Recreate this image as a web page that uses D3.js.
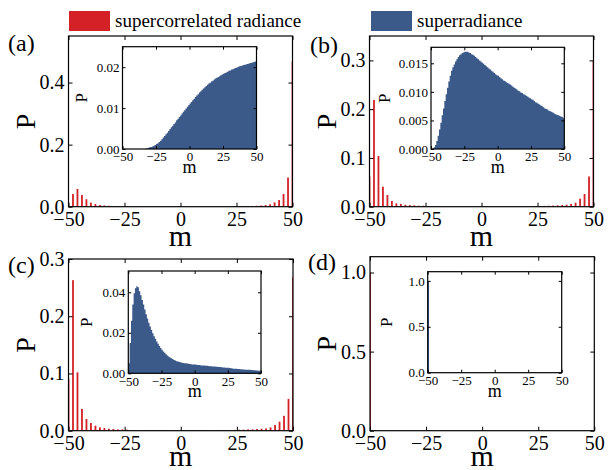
<!DOCTYPE html>
<html><head><meta charset="utf-8">
<script src="https://cdn.jsdelivr.net/npm/d3@7"></script>
<style>
body{margin:0;background:#fff}
svg{display:block}
</style>
</head><body><svg id="chart" width="610" height="470"></svg>
<script>
// ---------------- DATA ----------------
const mainM = [-50,-48,-46,-44,-42,-40,-38,-36,-34,-32,-30,-28,-26,-24,-22,-20,-18,-16,-14,-12,-10,-8,-6,-4,-2,0,
  2,4,6,8,10,12,14,16,18,20,22,24,26,28,30,32,34,36,38,40,42,44,46,48,50];

const binM = [-50,-49,-48,-47,-46,-45,-44,-43,-42,-41,-40,-39,-38,-37,-36,-35,-34,-33,-32,-31,
  -30,-29,-28,-27,-26,-25,-24,-23,-22,-21,-20,-19,-18,-17,-16,-15,-14,-13,-12,-11,
  -10,-9,-8,-7,-6,-5,-4,-3,-2,-1,0,1,2,3,4,5,6,7,8,9,
  10,11,12,13,14,15,16,17,18,19,20,21,22,23,24,25,26,27,28,29,
  30,31,32,33,34,35,36,37,38,39,40,41,42,43,44,45,46,47,48,49];

// supercorrelated radiance (main panels), m = -50..50 step 2
const redA = [0,0.041,0.057,0.038,0.024,0.013,0.0085,0.0055,0.004,0.003,0.0022,0.0016,0.0012,0.0008,0,0,0,0,0,0,0,0,0,0,0,0,
  0,0,0,0,0,0,0,0,0,0,0,0.0006,0.0009,0.0012,0.0016,0.0022,0.003,0.004,0.0055,0.0078,0.014,0.0215,0.041,0.094,0.468];
const redB = [0.062,0.219,0.104,0.041,0.024,0.0116,0.0068,0.0055,0.004,0.0034,0.0027,0.002,0.002,0.0014,0.0014,0.001,0,0,0,0,0,0,0,0,0,0,
  0,0,0,0,0,0,0,0,0,0,0,0.0012,0.0015,0.0018,0.002,0.0024,0.0027,0.0034,0.004,0.0055,0.0082,0.0164,0.026,0.062,0.30];
const redC = [0.0906,0.263,0.102,0.038,0.0205,0.0135,0.0088,0.0058,0.0047,0.0035,0.003,0.0023,0.0023,0.0018,0.0012,0.0008,0.0008,0.0008,0.0008,0.0008,0.0008,0.0008,0.0008,0.0008,0.0008,0.0008,
  0.0008,0.0008,0.0008,0.0008,0.0008,0.0008,0.0008,0.0008,0.0008,0.0008,0.0012,0.0015,0.0018,0.0018,0.0023,0.0023,0.003,0.0035,0.004,0.0058,0.0099,0.0158,0.026,0.0556,0.268];
const redD = [1.0,0,0,0,0,0,0,0,0,0,0,0,0,0,0,0,0,0,0,0,0,0,0,0,0,0,
  0,0,0,0,0,0,0,0,0,0,0,0,0,0,0,0,0,0,0,0,0,0,0,0,0];

// superradiance (insets), unit bins starting at binM
const blueA = [0,0,0,0,0,0,0,0,0,0,0,0,0,0,0,0,0,0.0001,0.0002,0.0003,
  0.0004,0.0005,0.0006,0.0008,0.0010,0.0012,0.0014,0.0017,0.0020,0.0024,0.0028,0.0032,0.0036,0.0040,0.0044,0.0049,0.0053,0.0057,0.0061,0.0065,
  0.0070,0.0074,0.0078,0.0082,0.0087,0.0091,0.0095,0.0099,0.0103,0.0107,0.0111,0.0115,0.0119,0.0123,0.0127,0.0131,0.0134,0.0138,0.0141,0.0145,
  0.0148,0.0151,0.0154,0.0157,0.0160,0.0162,0.0165,0.0167,0.0170,0.0172,0.0174,0.0176,0.0178,0.0180,0.0182,0.0184,0.0186,0.0187,0.0189,0.0191,
  0.0192,0.0194,0.0195,0.0197,0.0198,0.0199,0.0201,0.0202,0.0203,0.0204,0.0205,0.0206,0.0207,0.0208,0.0209,0.0210,0.0211,0.0212,0.0213,0.0214];
const blueB = [0,0.0001,0.0003,0.0007,0.0014,0.0023,0.0034,0.0046,0.0059,0.0071,0.0084,0.0096,0.0107,0.0118,0.0128,0.0137,0.0143,0.0148,0.0153,0.0157,
  0.0161,0.0164,0.0166,0.0168,0.0169,0.0170,0.0170,0.0170,0.0169,0.0168,0.0166,0.0165,0.0163,0.0161,0.0159,0.0157,0.0155,0.0153,0.0151,0.0149,
  0.0147,0.0145,0.0143,0.0141,0.0139,0.0137,0.0135,0.0133,0.0131,0.0129,0.0128,0.0126,0.0124,0.0122,0.0120,0.0119,0.0117,0.0116,0.0114,0.0113,
  0.0111,0.0109,0.0107,0.0106,0.0104,0.0102,0.0101,0.0099,0.0098,0.0096,0.0095,0.0093,0.0092,0.0090,0.0089,0.0087,0.0086,0.0084,0.0082,0.0081,
  0.0079,0.0078,0.0076,0.0075,0.0073,0.0071,0.0070,0.0069,0.0067,0.0066,0.0065,0.0064,0.0062,0.0061,0.0060,0.0059,0.0058,0.0057,0.0056,0.0054];
const blueC = [0.0050,0.0150,0.0260,0.0340,0.0395,0.0420,0.0430,0.0425,0.0405,0.0385,0.0362,0.0340,0.0315,0.0292,0.0270,0.0250,0.0231,0.0214,0.0198,0.0183,
  0.0170,0.0157,0.0146,0.0135,0.0125,0.0116,0.0108,0.0101,0.0094,0.0088,0.0083,0.0078,0.0074,0.0070,0.0066,0.0063,0.0060,0.0058,0.0056,0.0054,
  0.0052,0.0051,0.0050,0.0049,0.0048,0.0047,0.0046,0.0045,0.0044,0.0043,0.0043,0.0042,0.0041,0.0041,0.0040,0.0039,0.0039,0.0038,0.0037,0.0037,
  0.0036,0.0035,0.0035,0.0034,0.0034,0.0033,0.0032,0.0032,0.0031,0.0031,0.0030,0.0029,0.0029,0.0028,0.0027,0.0027,0.0026,0.0025,0.0024,0.0023,
  0.0022,0.0022,0.0021,0.0021,0.0020,0.0020,0.0019,0.0019,0.0018,0.0018,0.0017,0.0017,0.0016,0.0016,0.0015,0.0015,0.0014,0.0014,0.0013,0.0013];
const blueD = [1.0,0,0,0,0,0,0,0,0,0,0,0,0,0,0,0,0,0,0,0,
  0,0,0,0,0,0,0,0,0,0,0,0,0,0,0,0,0,0,0,0,
  0,0,0,0,0,0,0,0,0,0,0,0,0,0,0,0,0,0,0,0,
  0,0,0,0,0,0,0,0,0,0,0,0,0,0,0,0,0,0,0,0,
  0,0,0,0,0,0,0,0,0,0,0,0,0,0,0,0,0,0,0,0];

const xTicks = [-50,-25,0,25,50];
const mainYTicksA = [0,0.2,0.4];
const mainYTicksB = [0,0.1,0.2,0.3];
const mainYTicksC = [0,0.1,0.2,0.3];
const mainYTicksD = [0,0.5,1.0];
const insetYTicksA = [0,0.01,0.02];
const insetYTicksB = [0,0.005,0.010,0.015];
const insetYTicksC = [0,0.02,0.04];
const insetYTicksD = [0,0.5,1.0];
const legendLabels = ["supercorrelated radiance","superradiance"];
const panelLabels = ["(a)","(b)","(c)","(d)"];
const xLabel = "m", yLabel = "P";

// ---------------- LAYOUT ----------------
const FONT = '"Liberation Serif", "DejaVu Serif"';
const RED = "#d42027", BLUE = "#3b5a8a";
const panels = [
  {lab:panelLabels[0], red:redA, blue:blueA, yMax:0.55, yT:mainYTicksA, fmt:".1f", mOff:39,
   box:{x0:68.5,x1:292.5,y0:36,y1:206.7}, lpos:[8,51],
   ins:{x0:122.5,x1:256.5,y0:46.7,y1:149,yMax:0.025,yT:insetYTicksA,fmt:".2f"}},
  {lab:panelLabels[1], red:redB, blue:blueB, yMax:0.35, yT:mainYTicksB, fmt:".1f", mOff:39,
   box:{x0:369.5,x1:593.5,y0:36,y1:206.7}, lpos:[310,53],
   ins:{x0:431,x1:564.3,y0:47.3,y1:149,yMax:0.0178,yT:insetYTicksB,fmt:".3f"}},
  {lab:panelLabels[2], red:redC, blue:blueC, yMax:0.3, yT:mainYTicksC, fmt:".1f", mOff:35,
   box:{x0:68.5,x1:293,y0:259,y1:430.7}, lpos:[8,273],
   ins:{x0:128.3,x1:261,y0:271,y1:373.3,yMax:0.0505,yT:insetYTicksC,fmt:".2f"}},
  {lab:panelLabels[3], red:redD, blue:blueD, yMax:1.1, yT:mainYTicksD, fmt:".1f", mOff:35,
   box:{x0:370,x1:594.3,y0:256.7,y1:430.7}, lpos:[308,270],
   ins:{x0:427.7,x1:561.7,y0:271.7,y1:372.7,yMax:1.1,yT:insetYTicksD,fmt:".1f"}}
];

const svg = d3.select("#chart").style("font-family",FONT);
svg.append("rect").attr("width",610).attr("height",470).attr("fill","#fff");

function txt(sel){ return sel.style("font-family",FONT).attr("fill","#000"); }

// legend
const leg = [{t:legendLabels[0],c:RED,x:69},{t:legendLabels[1],c:BLUE,x:371}];
leg.forEach(l=>{
  svg.append("rect").attr("x",l.x).attr("y",11).attr("width",41).attr("height",20).attr("fill",l.c);
  txt(svg.append("text")).attr("x",l.x+46).attr("y",27).attr("font-size",19).text(l.t);
});

function frame(g, x, y, b, yT, fmt, opt){
  const tl = opt.tick;
  const bottom = d3.axisBottom(x).tickValues(xTicks).tickSize(-tl).tickPadding(opt.xpad).tickFormat(d3.format("d"));
  const top = d3.axisTop(x).tickValues(xTicks).tickSize(-tl).tickFormat("");
  const left = d3.axisLeft(y).tickValues(yT).tickSize(-tl).tickPadding(opt.ypad).tickFormat(d3.format(fmt));
  const right = d3.axisRight(y).tickValues(yT).tickSize(-tl).tickFormat("");
  g.append("g").attr("transform",`translate(0,${b.y1})`).call(bottom);
  g.append("g").attr("transform",`translate(0,${b.y0})`).call(top);
  g.append("g").attr("transform",`translate(${b.x0},0)`).call(left);
  g.append("g").attr("transform",`translate(${b.x1},0)`).call(right);
  g.selectAll(".domain").remove();
  g.selectAll(".tick line").attr("stroke","#000").attr("stroke-width",1);
  g.selectAll("g").attr("font-family",null);
  txt(g.selectAll(".tick text")).attr("font-size",opt.fs);
  g.append("rect").attr("x",b.x0).attr("y",b.y0).attr("width",b.x1-b.x0).attr("height",b.y1-b.y0)
    .attr("fill","none").attr("stroke","#000").attr("stroke-width",1.2);
}

panels.forEach((p,i)=>{
  const b = p.box;
  const g = svg.append("g");
  const x = d3.scaleLinear().domain([-50,50]).range([b.x0,b.x1]);
  const y = d3.scaleLinear().domain([0,p.yMax]).range([b.y1,b.y0]);
  const cid = "clip"+i;
  svg.append("clipPath").attr("id",cid).append("rect").attr("x",b.x0).attr("y",b.y0).attr("width",b.x1-b.x0).attr("height",b.y1-b.y0);
  g.append("g").attr("clip-path",`url(#${cid})`).selectAll("rect").data(mainM.map((m,k)=>({m,v:p.red[k]})).filter(d=>d.v>0))
    .join("rect").attr("x",d=>x(d.m-0.4)).attr("width",d=>x(d.m+0.4)-x(d.m-0.4))
    .attr("y",d=>y(d.v)).attr("height",d=>y(0)-y(d.v)).attr("fill",RED);
  frame(g,x,y,b,p.yT,p.fmt,{tick:4,xpad:5,ypad:4,fs:20});
  txt(g.append("text")).attr("x",(b.x0+b.x1)/2).attr("y",b.y1+p.mOff).attr("text-anchor","middle").attr("font-size",30).text(xLabel);
  txt(g.append("text")).attr("transform",`translate(${b.x0-34},${(b.y0+b.y1)/2}) rotate(-90)`).attr("text-anchor","middle").attr("font-size",28).text(yLabel);
  txt(g.append("text")).attr("x",p.lpos[0]).attr("y",p.lpos[1]).attr("font-size",24).text(p.lab);

  const ib = p.ins;
  const gi = svg.append("g");
  const xi = d3.scaleLinear().domain([-50,50]).range([ib.x0,ib.x1]);
  const yi = d3.scaleLinear().domain([0,ib.yMax]).range([ib.y1,ib.y0]);
  gi.append("rect").attr("x",ib.x0).attr("y",ib.y0).attr("width",ib.x1-ib.x0).attr("height",ib.y1-ib.y0).attr("fill","#fff");
  const pts = binM.map((m,k)=>({m,v:p.blue[k]}));
  pts.push({m:binM[binM.length-1]+1, v:p.blue[p.blue.length-1]});
  const area = d3.area().x(d=>xi(d.m)).y0(yi(0)).y1(d=>yi(d.v)).curve(d3.curveStepAfter);
  gi.append("path").datum(pts).attr("d",area).attr("fill",BLUE);
  frame(gi,xi,yi,ib,ib.yT,ib.fmt,{tick:3,xpad:3,ypad:3,fs:13});
  txt(gi.append("text")).attr("x",(ib.x0+ib.x1)/2).attr("y",ib.y1+24).attr("text-anchor","middle").attr("font-size",18).text(xLabel);
  const yoff = i===1 ? 41 : 36;
  txt(gi.append("text")).attr("transform",`translate(${ib.x0-yoff},${(ib.y0+ib.y1)/2}) rotate(-90)`).attr("text-anchor","middle").attr("font-size",17).text(yLabel);
});
</script>
</body></html>
